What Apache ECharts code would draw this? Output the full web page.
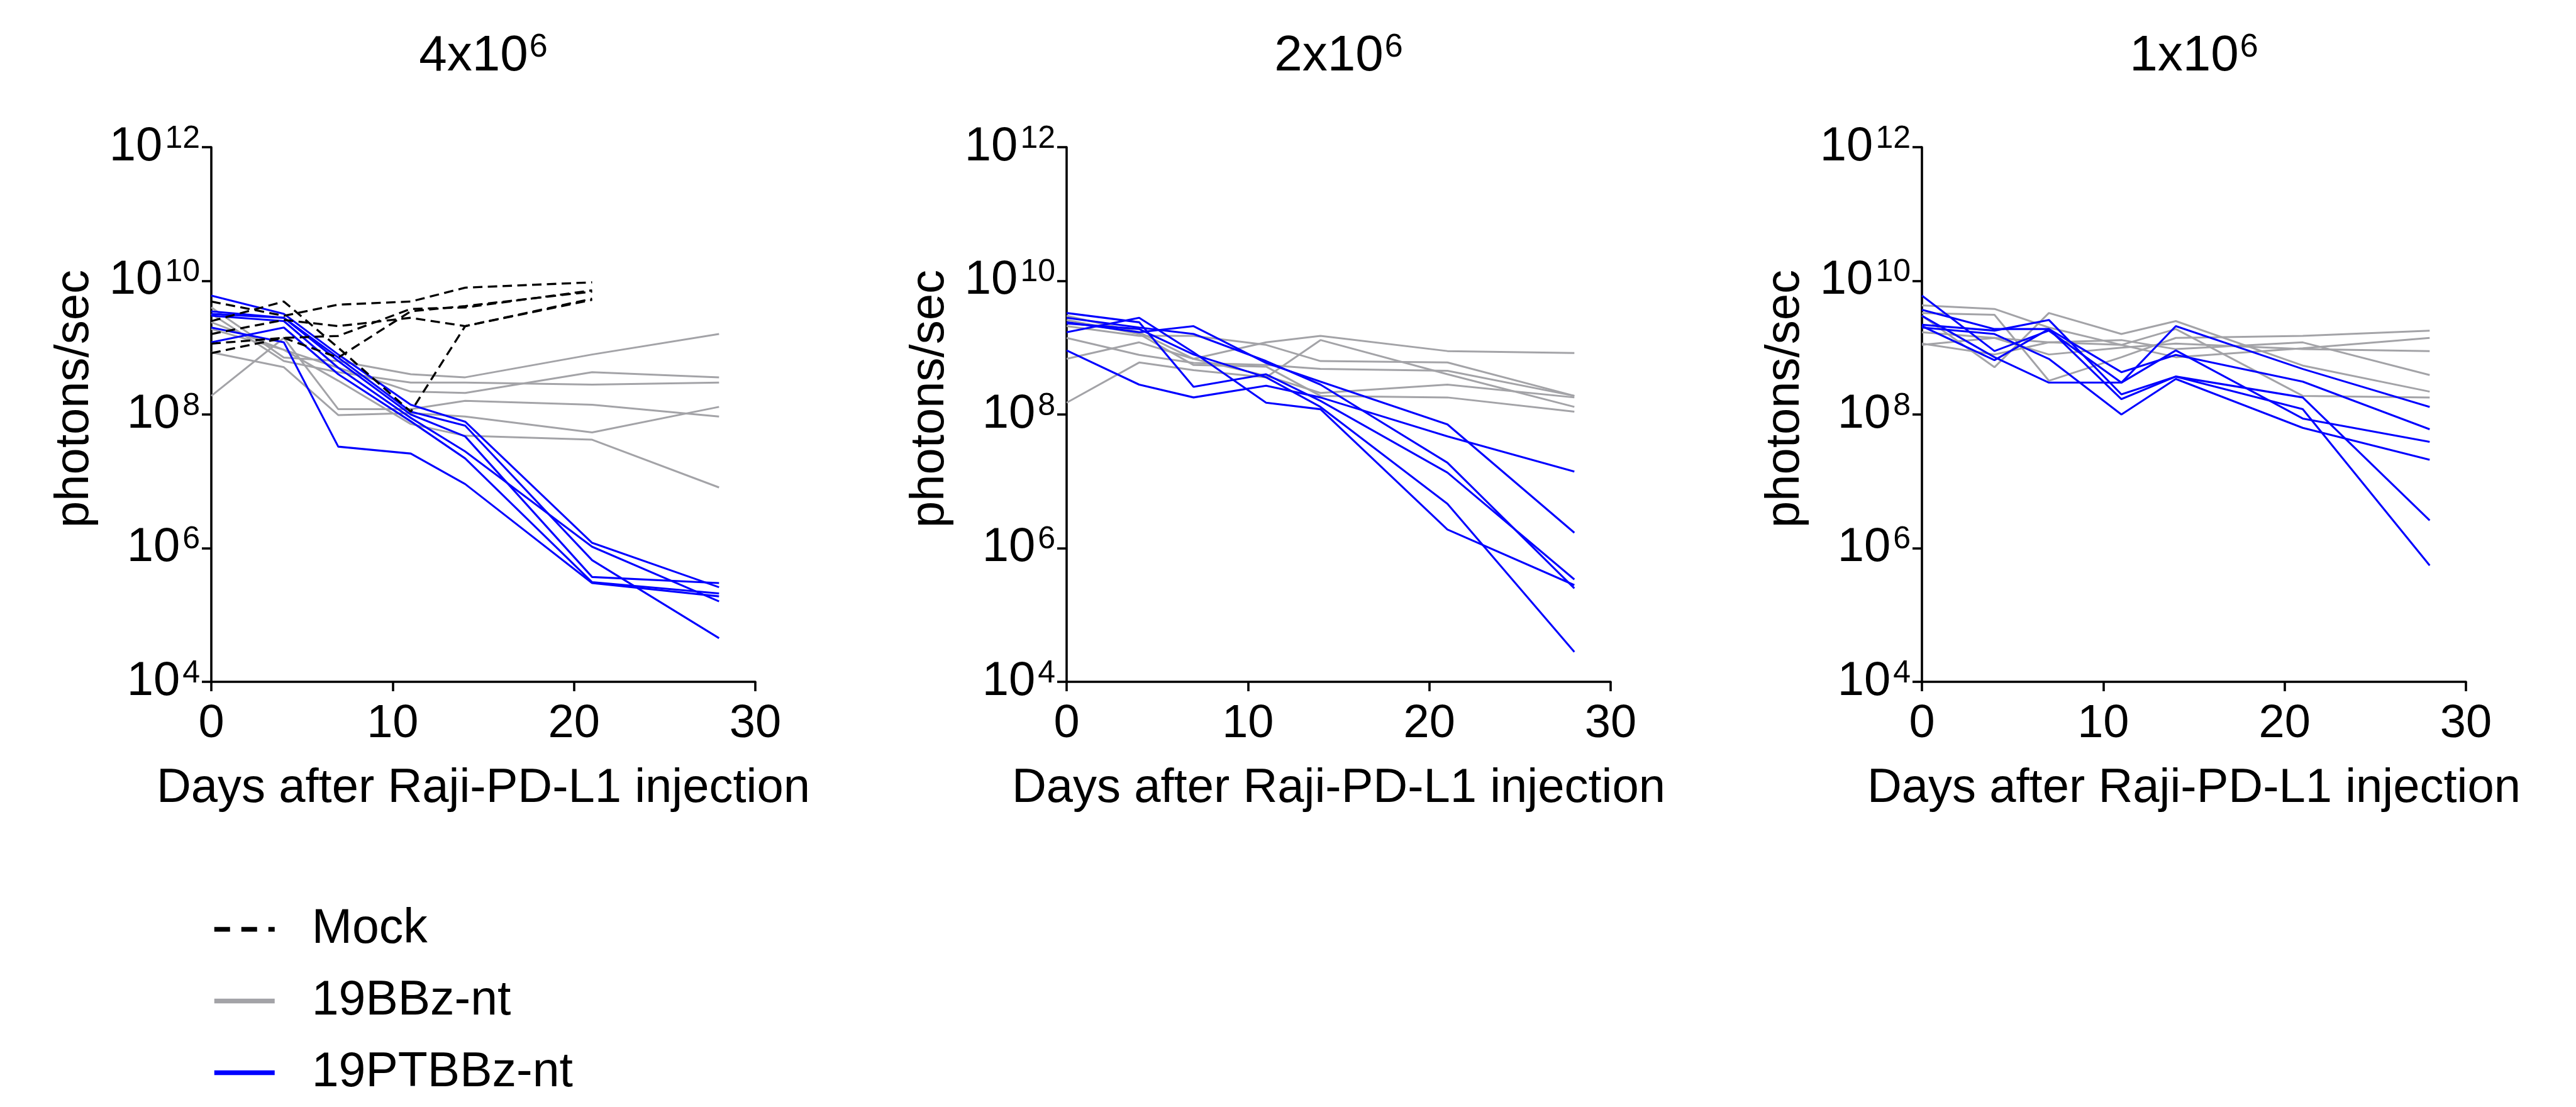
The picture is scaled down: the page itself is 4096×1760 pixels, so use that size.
<!DOCTYPE html>
<html>
<head>
<meta charset="utf-8">
<script src="https://cdn.jsdelivr.net/npm/echarts@6/dist/echarts.min.js"></script>
<style>
  html, body { margin: 0; padding: 0; background: #ffffff; }
  #chart { width: 4096px; height: 1760px; }
</style>
</head>
<body>
<div id="chart"></div>
<script>
// Imaging days after Raji-PD-L1 injection
const days = [0, 4, 7, 11, 14, 21, 28];
const mockDays = [0, 4, 7, 11, 14, 21];

// Panel headings: cell dose mantissa x 10^exponent
const doseMantissa = ['4', '2', '1'];
const doseExponent = '6';

// Axis ticks
const xTicks = [0, 10, 20, 30];
const yTickExponents = [4, 6, 8, 10, 12];

const groupNames = ['Mock', '19BBz-nt', '19PTBBz-nt'];

// Total flux (photons/sec), one row per mouse
// 4x10^6 dose
const mock4 = [
  [4.9e9, 3.0e9, 4.4e9, 4.9e9, 7.9e9, 9.5e9],
  [2.5e9, 4.9e9, 1.0e9, 1.1e8, 2.1e9, 5.4e9],
  [1.6e9, 2.6e9, 2.1e9, 2.8e9, 2.1e9, 5.2e9],
  [1.15e9, 1.4e9, 1.5e9, 3.8e9, 4.0e9, 7.2e9],
  [8.3e8, 1.4e9, 7.1e8, 3.5e9, 4.2e9, 6.9e9]
];
const bbz4 = [
  [4.0e9, 7.1e8, 6.3e8, 4.0e8, 3.6e8, 7.9e8, 1.6e9],
  [3.2e9, 6.3e8, 4.3e8, 3.0e8, 3.0e8, 2.8e8, 3.0e8],
  [2.4e9, 9.3e8, 5.0e8, 2.2e8, 2.1e8, 4.3e8, 3.6e8],
  [1.9e9, 9.3e8, 3.2e8, 7.2e7, 4.8e7, 4.2e7, 8.1e6],
  [1.9e8, 1.4e9, 1.2e8, 1.2e8, 1.6e8, 1.4e8, 9.3e7],
  [8.5e8, 5.1e8, 9.8e7, 1.05e8, 9.3e7, 5.4e7, 1.3e8]
];
const ptbbz4 = [
  [6.0e9, 3.2e9, 7.9e8, 1.4e8, 7.8e7, 1.2e6, 2.6e5],
  [3.5e9, 2.8e9, 7.1e8, 1.1e8, 6.8e7, 6.6e5, 4.5e4],
  [3.2e9, 2.8e9, 6.3e8, 1.0e8, 4.7e7, 3.7e5, 3.0e5],
  [3.0e9, 2.5e9, 5.0e8, 8.9e7, 2.8e7, 1.05e6, 1.6e5],
  [1.2e9, 2.0e9, 4.0e8, 7.9e7, 2.2e7, 3.1e5, 2.1e5],
  [2.0e9, 1.2e9, 3.3e7, 2.6e7, 9.1e6, 3.0e5, 1.9e5]
];
// 2x10^6 dose
const bbz2 = [
  [6.8e8, 1.2e9, 6.8e8, 1.2e9, 1.5e9, 8.9e8, 8.3e8],
  [2.1e9, 1.5e9, 1.5e9, 1.1e9, 6.3e8, 6.0e8, 1.9e8],
  [1.5e8, 6.0e8, 4.6e8, 3.6e8, 1.3e9, 4.0e8, 1.3e8],
  [1.4e9, 7.8e8, 5.9e8, 5.5e8, 4.8e8, 4.5e8, 1.9e8],
  [3.0e9, 1.7e9, 6.8e8, 3.8e8, 2.1e8, 2.8e8, 1.8e8],
  [2.6e9, 1.6e9, 5.5e8, 5.2e8, 1.9e8, 1.8e8, 1.1e8]
];
const ptbbz2 = [
  [2.4e9, 1.7e9, 2.1e9, 5.9e8, 3.1e8, 7.1e7, 1.7e6],
  [9.1e8, 2.8e8, 1.8e8, 2.7e8, 1.8e8, 4.7e7, 1.4e7],
  [2.8e9, 2.0e9, 1.6e9, 6.3e8, 2.8e8, 1.9e7, 2.5e5],
  [3.3e9, 2.4e9, 2.6e8, 4.0e8, 1.6e8, 1.35e7, 3.4e5],
  [2.3e9, 1.9e9, 7.9e8, 3.6e8, 1.3e8, 4.6e6, 2.8e4],
  [1.7e9, 2.8e9, 8.5e8, 1.5e8, 1.2e8, 1.9e6, 2.8e5]
];
// 1x10^6 dose
const bbz1 = [
  [3.0e9, 5.1e8, 3.3e9, 1.6e9, 2.5e9, 5.4e8, 2.2e8],
  [4.3e9, 3.8e9, 2.0e9, 1.1e9, 1.9e9, 1.9e8, 1.8e8],
  [3.3e9, 3.1e9, 3.2e8, 7.2e8, 1.4e9, 1.5e9, 1.8e9],
  [1.7e9, 1.4e9, 1.2e9, 1.3e9, 9.5e8, 1.2e9, 3.9e8],
  [1.15e9, 7.9e8, 1.2e9, 1.1e9, 7.2e8, 9.8e8, 1.4e9],
  [1.1e9, 1.4e9, 7.9e8, 1.0e9, 1.15e9, 9.5e8, 8.9e8]
];
const ptbbz1 = [
  [6.0e9, 8.9e8, 1.8e9, 3.0e8, 2.1e9, 4.8e8, 1.3e8],
  [3.7e9, 1.9e9, 1.9e9, 4.3e8, 7.8e8, 3.1e8, 6.0e7],
  [3.0e9, 7.2e8, 3.0e8, 3.0e8, 9.1e8, 8.7e7, 3.9e7],
  [2.2e9, 1.8e9, 2.6e9, 2.0e8, 3.7e8, 1.8e8, 2.6e6],
  [2.1e9, 6.5e8, 1.9e9, 1.7e8, 3.7e8, 1.2e8, 5.5e5],
  [2.0e9, 1.6e9, 6.8e8, 1.0e8, 3.4e8, 6.3e7, 2.1e7]
];

const panels = [
  { mock: mock4, bbz: bbz4, ptbbz: ptbbz4 },
  { mock: [], bbz: bbz2, ptbbz: ptbbz2 },
  { mock: [], bbz: bbz1, ptbbz: ptbbz1 }
];

const FONT = "'Liberation Sans', Arial, Helvetica, sans-serif";
const BLUE = '#0000ff';
const GREY = '#a3a3a7';
const BLACK = '#000000';

// layout (px)
const gridLefts = [336, 1696, 3056];
const gridTop = 234;
const gridW = 865;
const gridH = 850;

const grids = gridLefts.map(l => ({ left: l, top: gridTop, width: gridW, height: gridH, containLabel: false }));

const xAxes = gridLefts.map((l, i) => ({
  type: 'value', gridIndex: i, min: xTicks[0], max: xTicks[xTicks.length - 1], interval: 10,
  axisLine: { show: true, onZero: false, lineStyle: { color: BLACK, width: 3.6 } },
  axisTick: { show: true, length: 15, lineStyle: { color: BLACK, width: 3.6 } },
  axisLabel: { color: BLACK, fontSize: 74, fontFamily: FONT, margin: 31 },
  splitLine: { show: false },
  name: 'Days after Raji-PD-L1 injection', nameLocation: 'middle', nameGap: 132,
  nameTextStyle: { color: BLACK, fontSize: 76, fontFamily: FONT }
}));

const yAxes = gridLefts.map((l, i) => ({
  type: 'log', logBase: 100, gridIndex: i,
  min: Math.pow(10, yTickExponents[0]), max: Math.pow(10, yTickExponents[yTickExponents.length - 1]),
  splitNumber: 4,
  axisLine: { show: true, onZero: false, lineStyle: { color: BLACK, width: 3.6 } },
  axisTick: { show: true, length: 15, lineStyle: { color: BLACK, width: 3.6 } },
  splitLine: { show: false },
  axisLabel: {
    margin: 18,
    formatter: v => '{b|10}{s|' + Math.round(Math.log10(v)) + '}',
    rich: {
      b: { fontSize: 76, fontFamily: FONT, color: BLACK, lineHeight: 76 },
      s: { fontSize: 50, fontFamily: FONT, color: BLACK, lineHeight: 54, verticalAlign: 'top', padding: [0, 0, 0, 4] }
    }
  }
}));

const series = [];
function addGroup(rows, xs, name, color, width, type, panel, z) {
  rows.forEach(r => {
    series.push({
      type: 'line', name: name, xAxisIndex: panel, yAxisIndex: panel,
      data: xs.map((d, k) => [d, r[k]]),
      symbol: 'none', showSymbol: false, color: color, z: z,
      lineStyle: { color: color, width: width, type: type },
      emphasis: { disabled: true }, silent: true
    });
  });
}
panels.forEach((p, i) => {
  addGroup(p.bbz, days, groupNames[1], GREY, 3.0, 'solid', i, 2);
  addGroup(p.ptbbz, days, groupNames[2], BLUE, 3.1, 'solid', i, 3);
  addGroup(p.mock, mockDays, groupNames[0], BLACK, 3.3, [15, 8.5], i, 4);
});

// panel headings and rotated y-axis names
const graphics = [];
gridLefts.forEach((l, i) => {
  graphics.push({
    type: 'text', x: l + gridW / 2, y: 90,
    style: {
      text: '{m|' + doseMantissa[i] + 'x10}{e|' + doseExponent + '}',
      textAlign: 'center', textVerticalAlign: 'middle',
      rich: {
        m: { fontSize: 80, fontFamily: FONT, fill: BLACK, lineHeight: 80 },
        e: { fontSize: 52, fontFamily: FONT, fill: BLACK, lineHeight: 18, verticalAlign: 'top', padding: [0, 0, 0, 2] }
      }
    }
  });
  graphics.push({
    type: 'text', x: l - 217, y: 634, rotation: Math.PI / 2,
    style: {
      text: 'photons/sec', font: '76px ' + FONT, fill: BLACK,
      textAlign: 'center', textVerticalAlign: 'middle'
    }
  });
});

const option = {
  animation: false,
  backgroundColor: '#ffffff',
  grid: grids,
  xAxis: xAxes,
  yAxis: yAxes,
  series: series,
  graphic: graphics,
  legend: {
    orient: 'vertical', left: 337, top: 1439, padding: 0,
    itemWidth: 96, itemHeight: 8, itemGap: 37,
    selectedMode: false,
    itemStyle: { opacity: 0 },
    lineStyle: { width: 7.5 },
    textStyle: { fontSize: 77, fontFamily: FONT, color: BLACK, lineHeight: 76, padding: [0, 0, 0, 54] },
    data: [
      { name: groupNames[0], lineStyle: { type: [25, 18], width: 7.5 } },
      { name: groupNames[1], lineStyle: { width: 7.5 } },
      { name: groupNames[2], lineStyle: { width: 7.5 } }
    ]
  }
};

const chart = echarts.init(document.getElementById('chart'), null, { renderer: 'canvas' });
chart.setOption(option);
</script>
</body>
</html>
